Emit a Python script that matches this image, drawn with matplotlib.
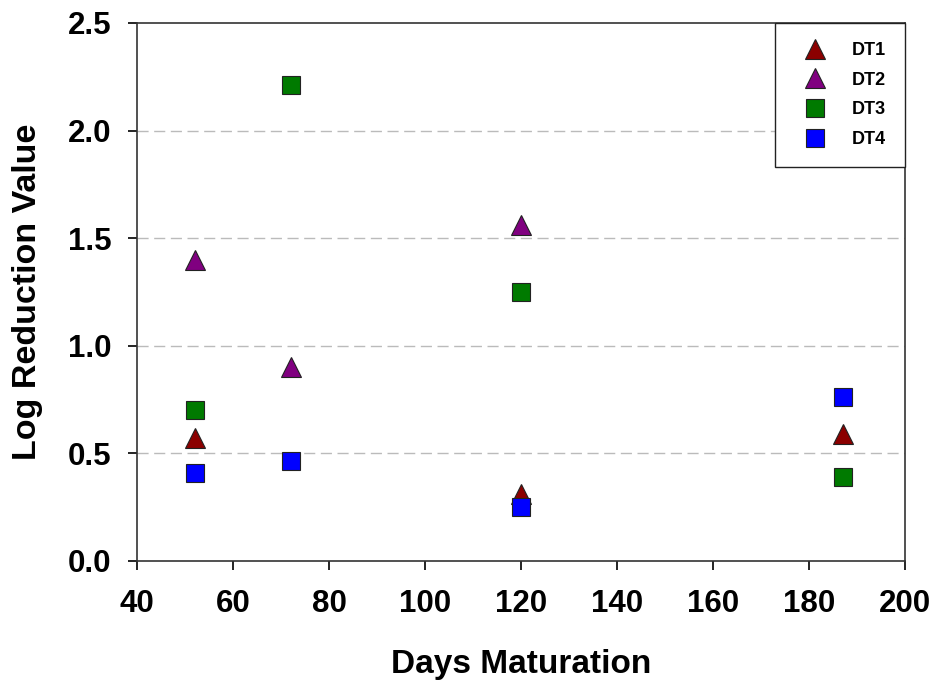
import matplotlib
matplotlib.use("Agg")
import matplotlib.pyplot as plt

days_dt1 = [52, 120, 187]
lrv_dt1 = [0.57, 0.31, 0.59]
days_dt2 = [52, 72, 120]
lrv_dt2 = [1.40, 0.90, 1.56]
days_dt3 = [52, 72, 120, 187]
lrv_dt3 = [0.70, 2.21, 1.25, 0.39]
days_dt4 = [52, 72, 120, 187]
lrv_dt4 = [0.41, 0.465, 0.25, 0.76]

plt.rcParams['font.family'] = ['Liberation Sans', 'DejaVu Sans']
plt.rcParams['font.weight'] = 'bold'

fig = plt.figure(figsize=(9.36, 6.81), dpi=100)
ax = fig.add_axes([137/936, 1 - 561/681, (905-137)/936, (561-23)/681])

tri = dict(linestyle='none', marker='^', markersize=14.5,
           markeredgecolor='#222222', markeredgewidth=0.8, zorder=3)
sq = dict(linestyle='none', marker='s', markersize=13.5,
          markeredgecolor='#222222', markeredgewidth=0.8, zorder=3)
ax.plot(days_dt1, lrv_dt1, markerfacecolor='#8b0000', label='DT1', **tri)
ax.plot(days_dt2, lrv_dt2, markerfacecolor='#800080', label='DT2', **tri)
ax.plot(days_dt3, lrv_dt3, markerfacecolor='#007a00', label='DT3', **sq)
ax.plot(days_dt4, lrv_dt4, markerfacecolor='#0000ff', label='DT4', **sq)

ax.set_xlim(40, 200)
ax.set_ylim(0, 2.5)
ax.set_xticks(range(40, 201, 20))
ax.set_yticks([0, 0.5, 1.0, 1.5, 2.0, 2.5])
ax.set_yticklabels(['0.0', '0.5', '1.0', '1.5', '2.0', '2.5'])
ax.tick_params(axis='both', direction='out', length=6.5, width=1.2, labelsize=22.5,
               top=False, right=False, pad=12)
ax.tick_params(axis='x', pad=14)
for lab in ax.get_xticklabels() + ax.get_yticklabels():
    lab.set_fontweight('bold')

for y in [0.5, 1.0, 1.5, 2.0]:
    ax.axhline(y, color='#bbbbbb', linestyle=(0, (8, 4)), linewidth=1.0, zorder=1)

for s in ax.spines.values():
    s.set_linewidth(1.2)
    s.set_color('#333333')

ax.set_xlabel('Days Maturation', fontsize=24, fontweight='bold')
ax.set_ylabel('Log Reduction Value', fontsize=24.5, fontweight='bold')
ax.xaxis.set_label_coords(0.5, (561 - 649) / 538)
ax.yaxis.set_label_coords((43 - 137) / 768, 0.5)

leg = ax.legend(loc='upper right', borderaxespad=0, frameon=True, fancybox=False,
                prop={'weight': 'bold', 'size': 13}, handletextpad=0.9,
                labelspacing=0.7, borderpad=1.05, handlelength=2.3,
                markerscale=0.95)
leg.get_frame().set_edgecolor('#222222')
leg.get_frame().set_linewidth(1.0)
leg.get_frame().set_alpha(1)

fig.savefig('out.png', dpi=100)
